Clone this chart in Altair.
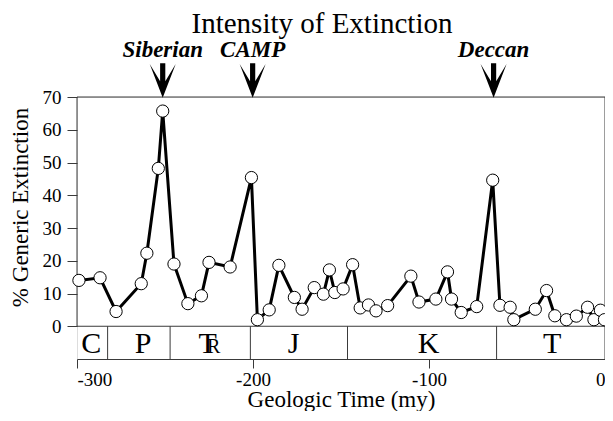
import altair as alt
import pandas as pd

# ---- data ----
ages = [-298.9, -286.9, -277.8, -263.5, -260.3, -253.8, -251.3, -244.9, -237.0, -229.3,
        -225.0, -213.0, -200.9, -197.5, -190.8, -185.3, -176.5, -172.1, -165.2, -160.0,
        -156.6, -153.5, -148.8, -143.4, -139.1, -134.4, -130.1, -123.5, -110.3, -105.7,
        -96.1, -89.5, -87.2, -81.7, -72.9, -63.8, -59.7, -53.9, -51.8, -39.6,
        -33.2, -28.5, -21.9, -16.3, -9.9, -6.3, -2.6, -0.3]
extinction = [14.0, 14.8, 4.5, 13.0, 22.3, 48.2, 65.7, 19.0, 6.9, 9.3,
              19.5, 18.1, 45.4, 2.0, 5.0, 18.6, 8.8, 5.2, 11.8, 9.8,
              17.2, 10.3, 11.4, 18.8, 5.6, 6.5, 4.7, 6.3, 15.3, 7.4,
              8.3, 16.6, 8.3, 4.2, 6.0, 44.6, 6.4, 5.8, 2.0, 5.2,
              10.9, 3.2, 2.0, 3.1, 5.8, 2.0, 4.9, 2.0]

period_bounds = [-282.6, -247.1, -201.5, -146.3, -61.6]
period_names = ["C", "P", "T", "J", "K", "T"]
period_label_x = [-291.9, -262.4, -225.8, -176.9, -100.2, -30.0]
triassic_sub = ["R"]
triassic_sub_x = [-225.8]

volcano_names = ["Siberian", "CAMP", "Deccan"]
volcano_ages = [-251.3, -200.2, -63.3]

x_ticks = [-300, -200, -100, 0]
y_ticks = [0, 10, 20, 30, 40, 50, 60, 70]
x_domain = [-300, 0]
y_domain = [-10, 70]

# ---- tables ----
df = pd.DataFrame({"age": ages, "ext": extinction})
bounds_df = pd.DataFrame({"x": period_bounds, "x2": period_bounds,
                          "y": [y_domain[0]] * len(period_bounds),
                          "y2": [0] * len(period_bounds)})
frame_df = pd.DataFrame({
    "x": [x_domain[0], x_domain[0], x_domain[1], x_domain[0]],
    "x2": [x_domain[0], x_domain[1], x_domain[1], x_domain[1]],
    "y": [0, y_domain[1], y_domain[0], 0],
    "y2": [y_domain[1], y_domain[1], y_domain[1], 0],
})
rules_df = pd.concat([frame_df, bounds_df], ignore_index=True)
periods_df = pd.DataFrame({"x": period_label_x, "name": period_names, "y": [-8.2] * 6})
tri_df = pd.DataFrame({"x": triassic_sub_x, "name": triassic_sub, "y": [-8.2]})
volc_df = pd.DataFrame({"age": volcano_ages, "name": volcano_names})

SERIF = "Liberation Serif, Times New Roman, serif"
LINE = "#3a3a3a"

xscale = alt.Scale(domain=x_domain, nice=False, zero=False)
yscale = alt.Scale(domain=y_domain, nice=False, zero=False)

xaxis = alt.Axis(values=x_ticks, labelExpr="'' + datum.value", grid=False,
                 tickSize=9, tickColor=LINE, domainColor=LINE, labelPadding=2,
                 labelFont=SERIF, labelFontSize=19, labelColor="black",
                 title="Geologic Time (my)", titleFont=SERIF, titleFontSize=23,
                 titleFontWeight="normal", titleColor="black", titlePadding=-1)
yaxis = alt.Axis(values=y_ticks, grid=False, domain=False, tickSize=10,
                 tickColor=LINE, labelPadding=6, labelFont=SERIF, labelFontSize=19,
                 labelColor="black", title="% Generic Extinction", titleFont=SERIF,
                 titleFontSize=23, titleFontWeight="normal", titleColor="black",
                 titleX=-57, titleY=110, titleBaseline="middle", titleAlign="center")


def X(field):
    return alt.X(field, type="quantitative", scale=xscale, axis=xaxis)


def Y(field):
    return alt.Y(field, type="quantitative", scale=yscale, axis=yaxis)


rules = alt.Chart(rules_df).mark_rule(color=LINE, strokeWidth=1).encode(
    x=X("x"), x2="x2", y=Y("y"), y2="y2")

period_text = alt.Chart(periods_df).mark_text(
    font=SERIF, fontSize=30, color="black", baseline="alphabetic").encode(
    x=X("x"), y=Y("y"), text="name:N")

tri_text = alt.Chart(tri_df).mark_text(
    font=SERIF, fontSize=20, color="black", baseline="alphabetic", dx=6).encode(
    x=X("x"), y=Y("y"), text="name:N")

line = alt.Chart(df).mark_line(color="black", strokeWidth=3).encode(
    x=X("age"), y=Y("ext"))

points = alt.Chart(df).mark_point(
    shape="circle", filled=True, fill="white", stroke="black", strokeWidth=1,
    size=150, opacity=1).encode(x=X("age"), y=Y("ext"))

arrow_path = "M -0.15 -1 L 0.15 -1 L 0.15 0.05 L 0.75 -0.95 L 0 1 L -0.75 -0.95 L -0.15 0.05 Z"
arrows = alt.Chart(volc_df).mark_point(
    shape=arrow_path, filled=True, fill="black", strokeWidth=0, size=1200,
    opacity=1).encode(x=X("age"), y=alt.value(-16.5))

volc_text = alt.Chart(volc_df).mark_text(
    font=SERIF, fontSize=23, fontWeight="bold", fontStyle="italic",
    color="black", baseline="middle").encode(
    x=X("age"), y=alt.value(-47), text="name:N")

chart = alt.layer(rules, period_text, tri_text, line, points, arrows, volc_text).properties(
    width=528, height=262,
    title=alt.Title("Intensity of Extinction", font=SERIF, fontSize=29,
                    fontWeight="normal", color="black", anchor="middle",
                    frame="group", offset=0, dx=-19),
    autosize=alt.AutoSizeParams(type="none"),
    padding={"left": 69, "top": 89, "right": 0, "bottom": 52},
).configure_view(stroke=None).configure(background="white")

chart.save("out.html", embed_options={"renderer": "svg", "actions": False})
